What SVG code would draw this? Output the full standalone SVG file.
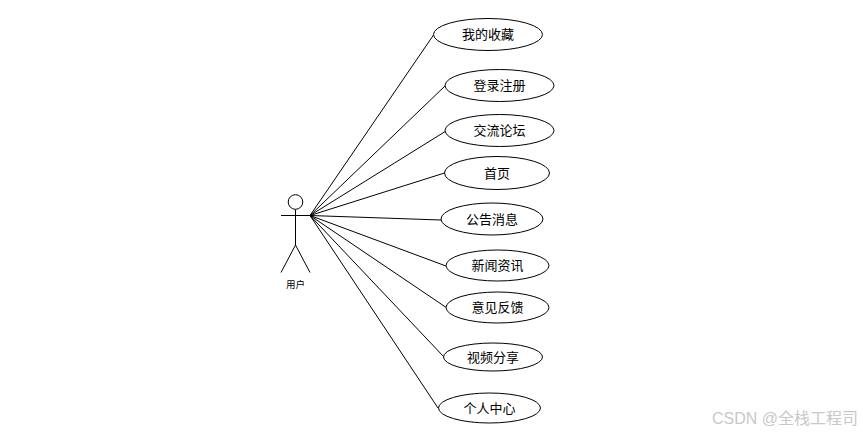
<svg xmlns="http://www.w3.org/2000/svg" width="863" height="433" viewBox="0 0 863 433">
<style>
.s{fill:none;stroke:#000;stroke-width:1}
.e{fill:#fff;stroke:#000;stroke-width:1}
.t{font-family:"Noto Sans CJK SC","Liberation Sans",sans-serif;font-size:13px;text-anchor:middle;fill:#000}
.a{font-family:"Noto Sans CJK SC","Liberation Sans",sans-serif;font-size:9.500px;text-anchor:middle;fill:#000}
.w{font-family:"Liberation Sans","Noto Sans CJK SC",sans-serif;font-size:16px;text-anchor:end;fill:#c8c8c8}
</style>
<rect width="863" height="433" fill="#fff"/>
<g id="connectors" class="s">
<path d="M310 215.500L433.500 35"/>
<path d="M310 215.500L445 86"/>
<path d="M310 215.500L446 131"/>
<path d="M310 215.500L444.500 173"/>
<path d="M310 215.500L441 220"/>
<path d="M310 215.500L446 266"/>
<path d="M310 215.500L447 308"/>
<path d="M310 215.500L444 357"/>
<path d="M310 215.500L438 408"/>
</g>
<g id="actor" class="s">
<circle cx="295.500" cy="202" r="7.300"/>
<path d="M281 215.500H310"/>
<path d="M295.500 209.500V245"/>
<path d="M281 272.500L295.500 245L310 272.500"/>
</g>
<text class="a" x="295.500" y="288">用户</text>
<g id="n1"><ellipse class="e" cx="488" cy="34.500" rx="54.500" ry="16"/><text class="t" x="488" y="38.500">我的收藏</text></g>
<g id="n2"><ellipse class="e" cx="499.500" cy="85.500" rx="54.500" ry="16"/><text class="t" x="499.500" y="89.500">登录注册</text></g>
<g id="n3"><ellipse class="e" cx="499.500" cy="130.500" rx="54.500" ry="16"/><text class="t" x="499.500" y="134.500">交流论坛</text></g>
<g id="n4"><ellipse class="e" cx="497" cy="173" rx="52.500" ry="16.500"/><text class="t" x="497" y="177.500">首页</text></g>
<g id="n5"><ellipse class="e" cx="492" cy="219" rx="51" ry="16"/><text class="t" x="492" y="223.500">公告消息</text></g>
<g id="n6"><ellipse class="e" cx="497.500" cy="265.500" rx="51.500" ry="15.500"/><text class="t" x="497.500" y="269.500">新闻资讯</text></g>
<g id="n7"><ellipse class="e" cx="497.500" cy="307.500" rx="51.500" ry="15.500"/><text class="t" x="497.500" y="311.500">意见反馈</text></g>
<g id="n8"><ellipse class="e" cx="493" cy="357" rx="49.500" ry="14"/><text class="t" x="493" y="361.500">视频分享</text></g>
<g id="n9"><ellipse class="e" cx="489.500" cy="408" rx="51" ry="15"/><text class="t" x="489.500" y="412.500">个人中心</text></g>
<text class="w" x="858" y="423.500">CSDN @全栈工程司</text>
</svg>
